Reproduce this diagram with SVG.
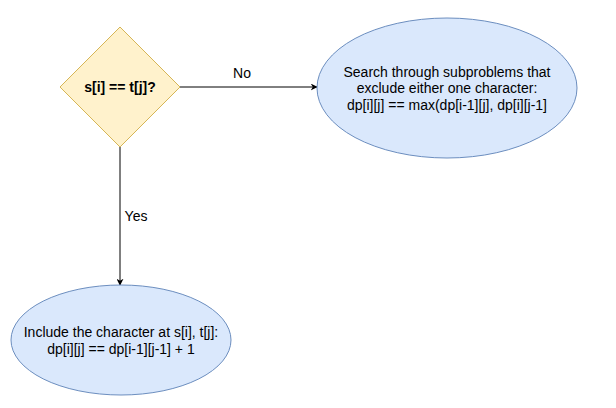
<svg xmlns="http://www.w3.org/2000/svg" width="616" height="408" viewBox="0 0 616 408">
<style>
text{font-family:"Liberation Sans",Arial,sans-serif;font-size:14px;fill:#000;text-anchor:middle}
.ell{fill:#dae8fc;stroke:#6c8ebf;stroke-width:1}
.dia{fill:#fff2cc;stroke:#d6b656;stroke-width:1}
.edge{stroke:#000;stroke-width:1;fill:none}
</style>
<defs>
<marker id="arr" viewBox="0 0 10 10" refX="9" refY="5" markerWidth="7" markerHeight="7" orient="auto" markerUnits="userSpaceOnUse">
<path d="M0,0 L10,5 L0,10 L3,5 Z" fill="#000"/>
</marker>
</defs>
<rect width="616" height="408" fill="#fff"/>
<g id="connectors">
<line class="edge" x1="180" y1="87" x2="317" y2="87" marker-end="url(#arr)"/>
<line class="edge" x1="120" y1="147" x2="120" y2="285" marker-end="url(#arr)"/>
<text x="242" y="78">No</text>
<text x="136" y="221">Yes</text>
</g>
<g id="decision">
<polygon class="dia" points="120,27 180,87 120,147 60,87"/>
<text x="120" y="92" font-weight="bold">s[i] == t[j]?</text>
</g>
<g id="exclude">
<ellipse class="ell" cx="447" cy="88" rx="130" ry="70"/>
<text x="447" y="77">Search through subproblems that</text>
<text x="447" y="93">exclude either one character:</text>
<text x="447" y="110">dp[i][j] == max(dp[i-1][j], dp[i][j-1]</text>
</g>
<g id="include">
<ellipse class="ell" cx="121" cy="340" rx="110" ry="55"/>
<text x="121" y="337">Include the character at s[i], t[j]:</text>
<text x="121" y="354">dp[i][j] == dp[i-1][j-1] + 1</text>
</g>
</svg>
